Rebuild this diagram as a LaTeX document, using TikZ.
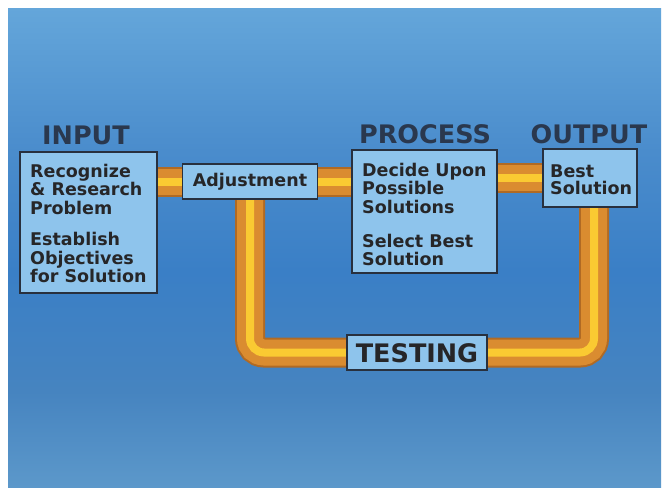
\documentclass[tikz,border=0pt]{standalone}
\usepackage{fontspec}
\newfontfamily\slidefont{DejaVu Sans}
\definecolor{bgA}{RGB}{100,166,218}
\definecolor{bgB}{RGB}{74,140,204}
\definecolor{bgC}{RGB}{58,127,198}
\definecolor{bgD}{RGB}{70,132,192}
\definecolor{bgE}{RGB}{92,152,202}
\pgfdeclareverticalshading{slidebg}{100bp}{color(0bp)=(bgE); color(25bp)=(bgE); color(35bp)=(bgD); color(47.5bp)=(bgC); color(60bp)=(bgB); color(75bp)=(bgA); color(100bp)=(bgA)}
\definecolor{boxblue}{RGB}{142,196,236}
\definecolor{boxline}{RGB}{40,48,62}
\definecolor{txt}{RGB}{38,38,40}
\definecolor{headtxt}{RGB}{42,56,78}
\definecolor{pipeedge}{RGB}{176,106,36}
\definecolor{pipeorange}{RGB}{218,140,48}
\definecolor{pipeyellow}{RGB}{250,202,50}
\begin{document}
\begin{tikzpicture}[x=1pt,y=-1pt,
  box/.style={draw=boxline, line width=1.6pt, fill=boxblue, inner sep=0pt, text=txt},
  boxfont/.style={font=\slidefont\bfseries\fontsize{17.5}{18.6}\selectfont},
  boxtext/.style={boxfont, anchor=north west, inner sep=0pt, align=left, text=txt},
  heading/.style={anchor=base, inner sep=0pt, text=headtxt, font=\slidefont\bfseries\fontsize{25.5}{28}\selectfont},
  pipe/.style={draw=pipeedge, line width=30pt, rounded corners=14pt,
    postaction={draw=pipeorange, line width=26pt},
    postaction={draw=pipeyellow, line width=8pt}}]
\useasboundingbox (0,0) rectangle (665,488);
\fill[white] (0,0) rectangle (665,488);
\shade[shading=slidebg] (8,8) rectangle (661,487);

% box positions
\coordinate (inc) at (88.5,222.5);
\coordinate (adjc) at (250,181.5);
\coordinate (procc) at (424.5,211.5);
\coordinate (outc) at (590,178);
\coordinate (testc) at (417,352.5);

\path node[minimum width=137pt, minimum height=141pt, inner sep=0pt] (inbox) at (inc) {}
      node[minimum width=135pt, minimum height=35pt, inner sep=0pt] (adjbox) at (adjc) {}
      node[minimum width=145pt, minimum height=123pt, inner sep=0pt] (procbox) at (procc) {}
      node[minimum width=94pt, minimum height=58pt, inner sep=0pt] (outbox) at (outc) {}
      node[minimum width=140pt, minimum height=35pt, inner sep=0pt] (testbox) at (testc) {};

% pipes
\draw[pipe] (inbox.east |- adjbox.west) -- (adjbox.west);
\draw[pipe] (adjbox.east) -- (procbox.west |- adjbox.east);
\draw[pipe] (procbox.east |- outbox.west) -- (outbox.west);
\draw[pipe] (adjbox.south) -- (adjbox.south |- testbox.center)
  -- ([xshift=4pt]outbox.south |- testbox.center) -- ([xshift=4pt]outbox.south);

% visible boxes
\node[box, minimum width=137pt, minimum height=141pt] (inputbox) at (inc) {};
\node[box, boxfont, minimum width=135pt, minimum height=35pt, text height=12.8pt, text depth=3.7pt] (adjustment) at (adjc) {Adjustment};
\node[box, minimum width=145pt, minimum height=123pt] (processbox) at (procc) {};
\node[box, minimum width=94pt, minimum height=58pt] (outputbox) at (outc) {};
\node[box, minimum width=140pt, minimum height=35pt, text height=19pt, text depth=0pt,
  font=\slidefont\bfseries\fontsize{25.5}{28}\selectfont] (testing) at (testc) {TESTING};

% box texts
\node[boxtext] (intext) at (30,163.7) {\rule{0pt}{13.3pt}Recognize\\ \& Research\\ Problem\\[12.5pt] Establish\\ Objectives\\ for Solution};
\node[boxtext] (proctext) at (362,162.7) {\rule{0pt}{13.3pt}Decide Upon\\ Possible\\ Solutions\\[15pt] Select Best\\ Solution};
\node[boxtext] (outtext) at (550,163.7) {\rule{0pt}{13.3pt}Best\\[-1.5pt] Solution};

% headings
\node[heading] (inlabel) at (86,144) {INPUT};
\node[heading] (proclabel) at (425,143) {PROCESS};
\node[heading] (outlabel) at (589,143) {OUTPUT};
\end{tikzpicture}
\end{document}
